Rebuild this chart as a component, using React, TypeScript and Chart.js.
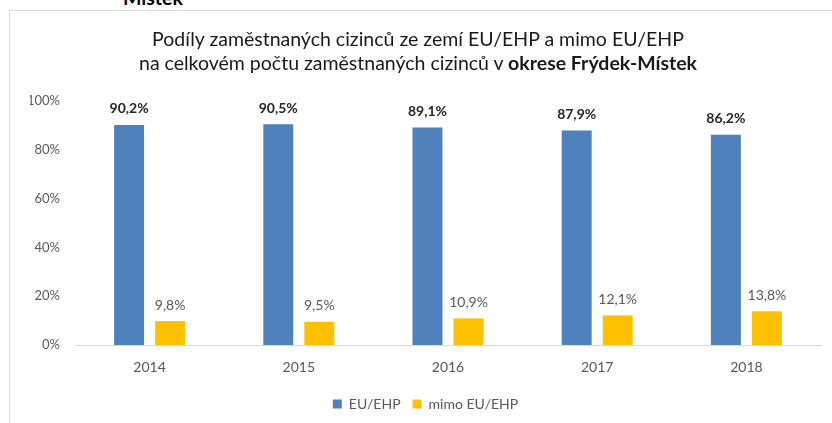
import React, { useEffect, useRef } from "react";
import { Chart, registerables } from "chart.js";

Chart.register(...registerables);

const categories = ["2014", "2015", "2016", "2017", "2018"];
const euValues = [90.2, 90.5, 89.1, 87.9, 86.2];
const nonEuValues = [9.8, 9.5, 10.9, 12.1, 13.8];
const seriesLabels = ["EU/EHP", "mimo EU/EHP"];
const seriesColors = ["#4f81bd", "#ffc000"];
const yMin = 0;
const yMax = 100;
const yStep = 20;
const titleLine1 = "Podíly zaměstnaných cizinců ze zemí EU/EHP a mimo EU/EHP";
const titleLine2a = "na celkovém počtu zaměstnaných cizinců v ";
const titleLine2b = "okrese Frýdek-Místek";
const clippedCaption = "Místek";

const FONT = "Lato, 'Open Sans', sans-serif";

const valueLabels = {
  id: "valueLabels",
  afterDatasetsDraw(chart: any) {
    const ctx = chart.ctx;
    chart.data.datasets.forEach((ds: any, i: number) => {
      const meta = chart.getDatasetMeta(i);
      meta.data.forEach((bar: any, j: number) => {
        const v = ds.data[j] as number;
        ctx.save();
        ctx.font = i === 0 ? `bold 14px ${FONT}` : `14px ${FONT}`;
        ctx.fillStyle = i === 0 ? "#262626" : "#595959";
        ctx.textAlign = "center";
        ctx.textBaseline = "middle";
        ctx.fillText(v.toFixed(1).replace(".", ",") + "%", bar.x, bar.y - 16);
        ctx.restore();
      });
    });
  },
};

export default function App() {
  const canvasRef = useRef<HTMLCanvasElement | null>(null);

  useEffect(() => {
    document.body.style.margin = "0";
    const canvas = canvasRef.current;
    if (!canvas) return;
    const chart = new Chart(canvas, {
      type: "bar",
      data: {
        labels: categories,
        datasets: [
          {
            label: seriesLabels[0],
            data: euValues,
            backgroundColor: seriesColors[0],
            categoryPercentage: 0.55,
            barPercentage: 0.73,
          },
          {
            label: seriesLabels[1],
            data: nonEuValues,
            backgroundColor: seriesColors[1],
            categoryPercentage: 0.55,
            barPercentage: 0.73,
          },
        ],
      },
      options: {
        responsive: false,
        animation: false,
        devicePixelRatio: 1,
        layout: { padding: { top: 101, left: 30, right: 11, bottom: 2 } },
        plugins: {
          legend: {
            position: "bottom",
            labels: {
              boxWidth: 9,
              boxHeight: 9,
              padding: 12,
              color: "#595959",
              font: { size: 14, family: FONT },
            },
          },
          title: { display: false },
          tooltip: { enabled: false },
        },
        scales: {
          x: {
            grid: { display: false, drawTicks: false },
            border: { display: true, color: "#d9d9d9", width: 1 },
            ticks: {
              color: "#595959",
              padding: 14,
              font: { size: 14, family: FONT },
            },
            afterFit(scale: any) {
              scale.height = 40;
            },
          },
          y: {
            min: yMin,
            max: yMax,
            grid: { display: false, drawTicks: false },
            border: { display: false },
            ticks: {
              stepSize: yStep,
              color: "#595959",
              padding: 15,
              font: { size: 13, family: FONT },
              callback: (v: any) => v + "%",
            },
            afterFit(scale: any) {
              scale.width = 45;
            },
          },
        },
      },
      plugins: [valueLabels],
    });
    return () => chart.destroy();
  }, []);

  return (
    <div
      style={{
        position: "absolute",
        left: 0,
        top: 0,
        width: 832,
        height: 423,
        overflow: "hidden",
        background: "#fff",
        fontFamily: FONT,
      }}
    >
      <div
        style={{
          position: "absolute",
          left: 123,
          top: -14,
          fontSize: 19.5,
          fontWeight: "bold",
          color: "#000",
        }}
      >
        {clippedCaption}
      </div>
      <div
        style={{
          position: "absolute",
          left: 9,
          top: 10,
          width: 900,
          height: 500,
          borderLeft: "1px solid #d9d9d9",
          borderTop: "1px solid #d9d9d9",
        }}
      />
      <canvas
        ref={canvasRef}
        width={832}
        height={423}
        style={{ position: "absolute", left: 0, top: 0 }}
      />
      <div
        style={{
          position: "absolute",
          left: 0,
          width: 836,
          top: 27,
          textAlign: "center",
          fontSize: 19.5,
          lineHeight: "24px",
          color: "#1a1a1a",
        }}
      >
        <div>{titleLine1}</div>
        <div>
          {titleLine2a}
          <b>{titleLine2b}</b>
        </div>
      </div>
    </div>
  );
}
